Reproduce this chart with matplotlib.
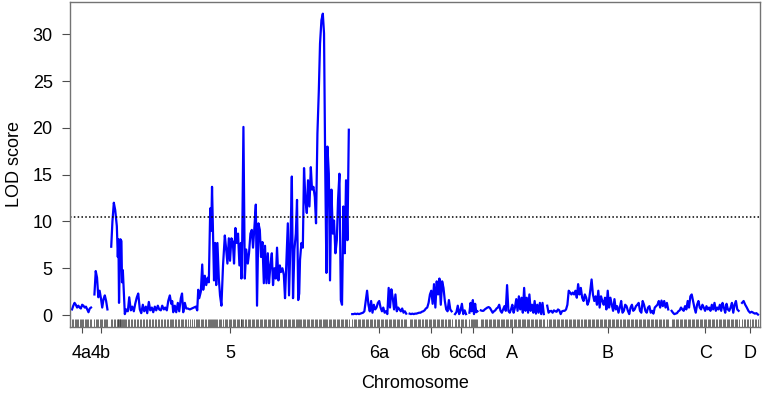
import numpy as np
import matplotlib
matplotlib.use("Agg")
import matplotlib.pyplot as plt
import matplotlib.transforms as mtransforms

plt.rcParams["font.family"] = ["Liberation Sans", "DejaVu Sans"]

# ---------------------------------------------------------------------------
# Data (LOD profile)
# ---------------------------------------------------------------------------

chrom_names = ["4a", "4b", "5", "6a", "6b", "6c", "6d", "A", "B", "C", "D"]
chrom_lengths = [95, 65, 1190, 270, 210, 55, 40, 315, 605, 335, 80]   # cM
chrom_gap = 17
threshold = 10.5

lod_4a = [0.6, 1.0, 1.3, 1.1, 0.8, 1.0, 0.8, 0.7, 1.1, 1.0, 0.8, 0.9, 0.6,
          0.3, 0.7, 0.8]

lod_4b = [2.2, 4.7, 4.0, 1.9, 2.6, 1.8, 0.8, 1.7, 2.1, 1.5, 0.6]

chr5_pos = [2, 8, 15, 22, 30, 35, 38, 41, 45, 48, 53, 56, 60, 65, 70, 77, 85,
            92, 100, 107, 115, 122, 130, 137, 145, 152, 160, 167, 175, 182,
            190, 197, 205, 212, 220, 227, 235, 242, 250, 257, 265, 272, 280,
            287, 295, 302, 307, 312, 320, 327, 335, 342, 350, 356, 362, 370,
            377, 385, 395, 405, 415, 425, 432, 437, 442, 450, 457, 462, 470,
            477, 485, 490, 497, 502, 506, 511, 516, 522, 527, 533, 540, 546,
            553, 561, 570, 576, 583, 590, 596, 603, 610, 616, 623, 630, 636,
            643, 650, 653, 657, 663, 670, 677, 685, 691, 698, 705, 711, 718,
            725, 731, 738, 745, 751, 758, 765, 771, 778, 785, 791, 798, 805,
            811, 818, 825, 831, 838, 845, 851, 858, 865, 871, 878, 885, 891,
            898, 905, 911, 918, 925, 931, 937, 942, 946, 953, 960, 966, 973,
            980, 986, 993, 1000, 1006, 1013, 1020, 1026, 1033, 1040, 1046,
            1053, 1060, 1066, 1072, 1078, 1083, 1090, 1096, 1103, 1110, 1116,
            1123, 1130, 1136, 1143, 1150, 1156, 1163, 1170, 1176, 1183, 1190]
lod_5 = [7.3, 10.0, 12.0, 11.2, 9.5, 6.2, 8.1, 1.3, 6.0, 8.1, 7.9, 3.5, 4.8,
         2.5, 0.1, 0.6, 0.4, 1.9, 0.5, 0.9, 0.4, 1.2, 1.9, 2.3, 0.6, 0.2, 1.1,
         0.4, 0.9, 0.2, 1.4, 0.5, 0.8, 0.3, 0.9, 0.5, 1.0, 0.6, 0.5, 1.0, 0.6,
         0.8, 0.5, 1.5, 2.1, 1.2, 1.5, 0.3, 1.0, 0.3, 1.3, 0.4, 1.8, 2.3, 0.3,
         1.3, 0.7, 0.7, 0.6, 0.7, 0.8, 0.9, 0.5, 2.7, 1.8, 2.5, 5.4, 2.7, 4.2,
         3.2, 4.0, 3.5, 11.4, 9.0, 13.7, 8.7, 3.7, 7.7, 3.2, 7.7, 3.9, 2.1,
         1.0, 5.3, 8.5, 7.2, 5.5, 8.2, 5.8, 8.2, 7.8, 5.5, 9.3, 7.7, 8.7, 5.3,
         7.7, 3.9, 8.0, 20.1, 3.9, 7.0, 5.5, 6.6, 8.7, 9.1, 7.2, 9.4, 11.8,
         1.0, 9.8, 9.1, 6.2, 7.8, 3.4, 7.4, 3.4, 6.6, 3.4, 5.3, 6.6, 3.2, 5.0,
         3.9, 7.2, 3.7, 5.3, 4.6, 5.0, 4.3, 1.8, 5.8, 9.8, 2.1, 7.7, 14.8, 1.8,
         7.0, 8.7, 12.3, 1.6, 2.3, 5.9, 7.7, 7.2, 15.7, 12.3, 10.9, 14.4, 11.6,
         15.8, 13.4, 13.7, 12.6, 9.8, 19.4, 24.0, 29.0, 31.5, 32.2, 30.1, 15.8,
         4.5, 18.0, 15.1, 3.7, 13.4, 8.7, 10.1, 6.6, 8.0, 12.3, 15.1, 1.6, 1.1,
         11.6, 6.6, 14.4, 8.0, 19.8]

lod_6a = [0.1, 0.1, 0.15, 0.1, 0.15, 0.1, 0.15, 0.2, 0.25, 0.4, 1.5, 2.6, 1.1,
          0.4, 1.5, 0.25, 1.1, 0.6, 0.8, 1.3, 1.5, 0.8, 0.4, 0.8, 0.25, 0.4,
          0.1, 2.9, 0.8, 2.75, 1.85, 0.6, 2.2, 0.4, 0.8, 0.6, 0.4, 0.7, 0.25,
          0.4, 0.15]

lod_6b = [0.15, 0.1, 0.15, 0.1, 0.15, 0.15, 0.2, 0.25, 0.25, 0.35, 0.4, 0.5,
          0.7, 0.8, 1.3, 2.2, 2.6, 1.2, 3.3, 0.8, 3.6, 2.2, 3.9, 1.1, 3.6, 2.9,
          1.5, 0.6, 0.4, 1.6, 0.6, 0.4]

lod_6c = [0.1, 0.3, 1.0, 0.1, 0.5, 1.2, 0.1, 0.5, 0.1]

lod_6d = [0.25, 1.3, 0.4, 1.6, 0.1, 1.2, 0.3, 0.4]

lod_A = [0.5, 0.45, 0.45, 0.6, 0.7, 0.8, 0.85, 0.75, 0.5, 0.25, 0.4, 0.5, 0.7,
         0.8, 1.1, 0.45, 0.25, 0.6, 0.95, 0.45, 3.2, 0.45, 0.25, 0.6, 1.1,
         0.25, 0.8, 1.7, 0.45, 2.0, 0.6, 1.85, 0.25, 2.9, 0.45, 1.85, 0.25,
         2.2, 0.45, 1.1, 0.25, 1.5, 0.15, 1.1, 0.25, 1.3, 0.1, 1.3, 0.1]

lod_B = [1.0, 0.25, 0.4, 0.45, 0.25, 0.5, 0.4, 0.35, 0.6, 0.5, 0.1, 0.4, 0.45,
         0.45, 0.6, 1.1, 2.6, 2.4, 2.2, 2.4, 2.2, 2.6, 1.85, 3.3, 2.2, 2.9,
         1.85, 1.5, 2.2, 1.85, 1.1, 1.5, 2.6, 3.8, 2.2, 1.5, 2.0, 1.1, 2.6,
         0.8, 2.0, 1.5, 1.1, 1.85, 0.6, 2.6, 0.8, 1.85, 1.1, 0.45, 1.7, 0.6,
         0.95, 0.25, 0.8, 1.5, 0.25, 0.45, 1.1, 0.95, 0.45, 0.1, 0.8, 1.1,
         0.45, 0.6, 0.95, 1.1, 1.3, 0.45, 0.25, 1.5, 1.1, 0.45, 0.25, 0.8,
         0.95, 0.25, 0.45, 0.15, 0.8, 0.95, 1.1, 1.5, 0.8, 1.55, 0.95, 1.5,
         0.8, 1.3, 0.6]

lod_C = [0.45, 0.25, 0.1, 0.15, 0.2, 0.4, 0.5, 0.8, 0.6, 0.45, 0.95, 0.6, 1.5,
         0.8, 2.0, 2.2, 1.5, 0.8, 0.25, 1.1, 1.5, 0.8, 0.6, 1.1, 0.8, 0.45,
         0.95, 0.6, 0.8, 0.45, 1.1, 0.6, 1.3, 0.45, 0.8, 0.6, 1.1, 0.45, 1.3,
         0.8, 0.25, 1.2, 0.6, 0.45, 0.8, 1.3, 0.25, 1.1, 1.5, 0.6, 0.45]

lod_D = [1.3, 1.5, 1.1, 0.8, 0.45, 0.25, 0.35, 0.25, 0.15, 0.2, 0.05]


def chrom_positions(length, values):
    return np.linspace(0, length, len(values))


profiles = [
    chrom_positions(chrom_lengths[0], lod_4a),
    chrom_positions(chrom_lengths[1], lod_4b),
    np.array(chr5_pos, dtype=float),
    chrom_positions(chrom_lengths[3], lod_6a),
    chrom_positions(chrom_lengths[4], lod_6b),
    chrom_positions(chrom_lengths[5], lod_6c),
    chrom_positions(chrom_lengths[6], lod_6d),
    chrom_positions(chrom_lengths[7], lod_A),
    chrom_positions(chrom_lengths[8], lod_B),
    chrom_positions(chrom_lengths[9], lod_C),
    chrom_positions(chrom_lengths[10], lod_D),
]
lods = [lod_4a, lod_4b, lod_5, lod_6a, lod_6b, lod_6c, lod_6d,
        lod_A, lod_B, lod_C, lod_D]

# ---------------------------------------------------------------------------
# Plot
# ---------------------------------------------------------------------------

fig = plt.figure(figsize=(7.62, 3.94), dpi=100)
ax = fig.add_axes([0.0919, 0.170, 0.9055, 0.825])

starts = np.concatenate([[0], np.cumsum(np.array(chrom_lengths) + chrom_gap)[:-1]])
mids = starts + np.array(chrom_lengths) / 2

rug_trans = mtransforms.blended_transform_factory(ax.transData, ax.transAxes)
for start, pos, lod in zip(starts, profiles, lods):
    ax.plot(start + pos, lod, color="#0000ff", lw=1.6, solid_joinstyle="round")
    ax.vlines(start + pos, 0, 0.026, transform=rug_trans,
              color="0.2", lw=0.5)

ax.axhline(threshold, color="black", ls=(0, (1, 1.5)), lw=1.1)

ax.set_xlim(-10, starts[-1] + chrom_lengths[-1] + 10)
ax.set_ylim(-1.28, 33.45)

ax.set_yticks(range(0, 31, 5))
ax.set_xticks(mids)
ax.set_xticklabels([])
ax.tick_params(axis="y", length=6, width=0.8, color="0.3", pad=6.5,
               labelsize=13)
ax.tick_params(axis="x", length=4.5, width=0.8, color="0.3")

# chromosome labels; the two narrow ones (6c, 6d) are nudged apart
label_shift = {"6c": -16, "6d": 14}
label_trans = mtransforms.blended_transform_factory(ax.transData, fig.transFigure)
for name, m in zip(chrom_names, mids):
    ax.text(m + label_shift.get(name, 0), 1 - 353 / 394, name,
            transform=label_trans, ha="center", va="center", fontsize=13)

for s in ax.spines.values():
    s.set_color("0.45")
    s.set_linewidth(1.0)

fig.text(0.5 * (0.0919 + 0.9974), 1 - 383 / 394, "Chromosome",
         ha="center", va="center", fontsize=13)
ax.set_ylabel("LOD score", fontsize=13, labelpad=7)

plt.savefig("out.png", dpi=100)
plt.close()
